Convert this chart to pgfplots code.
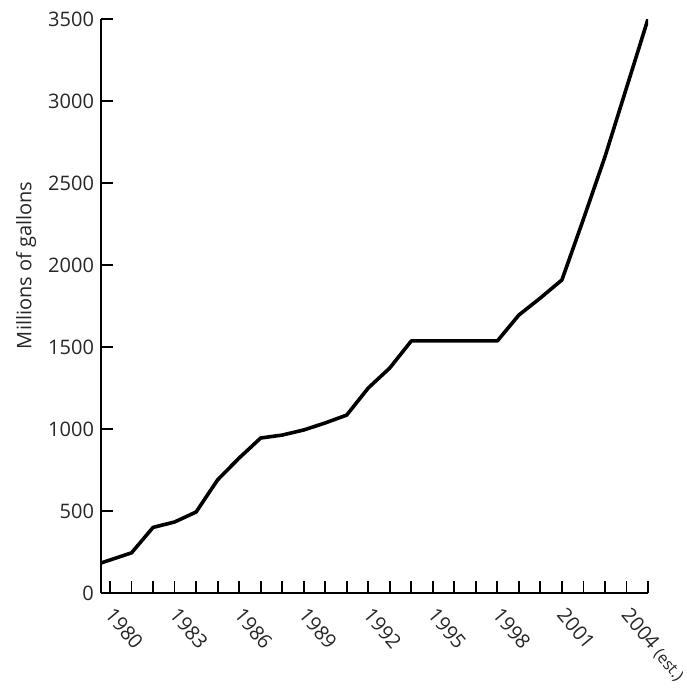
\documentclass[border=0pt]{standalone}
\usepackage{fontspec}
\setmainfont{Open Sans}
\usepackage{pgfplots}
\pgfplotsset{compat=1.18}

\begin{document}
\begin{tikzpicture}
\begin{axis}[
    scale only axis,
    width=273.5pt,
    height=287pt,
    xmin=1979.58, xmax=2005,
    ymin=0, ymax=3500,
    axis x line=bottom,
    axis y line=left,
    axis line style={-, line width=1.1pt, black},
    tick align=inside,
    major tick length=6pt,
    minor tick length=6pt,
    tick style={line width=0.9pt, black},
    xtick={1980,1983,...,2004},
    xticklabels={1980,1983,1986,1989,1992,1995,1998,2001,2004 {\footnotesize(est.)}},
    minor xtick={1980,...,2005},
    ytick={0,500,...,3500},
    /pgf/number format/.cd, 1000 sep={}, assume math mode=true,
    /pgfplots/.cd,
    tick label style={font=\fontsize{10}{12}\selectfont, text=black!85},
    xticklabel style={rotate=-50, anchor=north west, xshift=3.2pt, yshift=1.3pt},
    ylabel={Millions of gallons},
    ylabel style={at={(axis description cs:-0.137,0.571)}, anchor=center,
        font=\fontsize{10}{12}\selectfont, text=black!85},
]
\addplot[line width=1.8pt, black, line join=round] coordinates {
    (1979.58,183) (1981,245) (1982,400) (1983,433) (1984,494)
    (1985,690) (1986,823) (1987,945) (1988,963) (1989,994)
    (1990,1037) (1991,1085) (1992,1250) (1993,1372) (1994,1537)
    (1995,1537) (1996,1537) (1997,1537) (1998,1537) (1999,1695)
    (2000,1799) (2001,1909) (2002,2280) (2003,2660) (2004,3080)
    (2005,3500)
};
\end{axis}
\pgfresetboundingbox
\path[use as bounding box] (-50.5pt,-49pt) rectangle (292.5pt,296.5pt);
\end{tikzpicture}
\end{document}
